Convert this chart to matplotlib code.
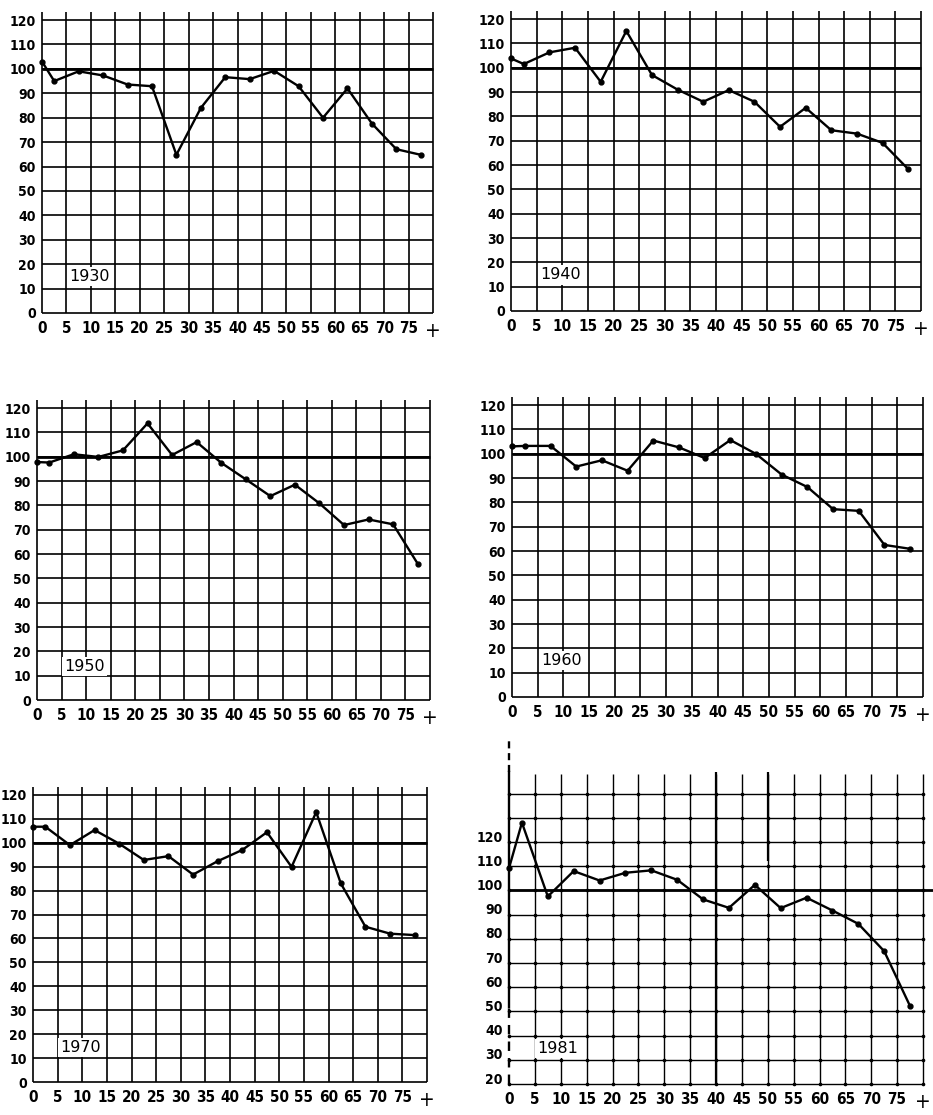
import matplotlib
# 无界面后端
matplotlib.use("Agg")
import matplotlib.pyplot as plt
import matplotlib.transforms as mtransforms
from matplotlib import font_manager

# 年龄组中点（0 为起点）
ages = [0, 2.5, 7.5, 12.5, 17.5, 22.5, 27.5, 32.5, 37.5, 42.5, 47.5, 52.5, 57.5, 62.5, 67.5, 72.5, 77.5]
x_ticks = [0, 5, 10, 15, 20, 25, 30, 35, 40, 45, 50, 55, 60, 65, 70, 75, 80]
x_labels = ["0", "5", "10", "15", "20", "25", "30", "35", "40", "45", "50", "55", "60", "65", "70", "75", "+"]

v1930 = [103, 95, 99, 97.3, 93.6, 92.9, 64.8, 84, 96.6, 95.8, 99.2, 92.9, 80, 92, 77.6, 67.1, 64.8]
v1940 = [103.8, 101.5, 106.3, 108.2, 94.2, 115.1, 97, 91, 86, 90.8, 86, 75.7, 83.5, 74.3, 72.9, 69.1, 58.3]
v1950 = [97.8, 97.6, 101, 99.9, 102.6, 113.7, 100.7, 106, 97.5, 90.7, 83.8, 88.5, 80.8, 71.9, 74.2, 72.2, 56]
v1960 = [103, 103.2, 103.2, 94.7, 97.3, 93, 105.4, 102.6, 98.2, 105.6, 99.9, 91.4, 86.3, 77.2, 76.5, 62.5, 60.9]
v1970 = [106.7, 106.7, 99, 105.3, 99.6, 92.8, 94.4, 86.7, 92.3, 97, 104.4, 89.9, 112.8, 83, 64.9, 62, 61.4]
v1981 = [109.2, 128, 97.5, 108, 104.1, 107.3, 108.3, 104.4, 96.3, 92.8, 102.3, 92.7, 97, 91.7, 86.2, 74.9, 52.2]

y_ticks = [0, 10, 20, 30, 40, 50, 60, 70, 80, 90, 100, 110, 120]
y_ticks_1981 = [20, 30, 40, 50, 60, 70, 80, 90, 100, 110, 120]

# 刻度字体：优先用窄体，没有就用 Roboto
names = {(f.name, f.stretch) for f in font_manager.fontManager.ttflist}
if ("DejaVu Sans", "condensed") in names:
    TICK_FONT = dict(family="DejaVu Sans", stretch="condensed")
elif any(n == "Liberation Sans Narrow" for n, _ in names):
    TICK_FONT = dict(family="Liberation Sans Narrow", stretch="normal")
else:
    TICK_FONT = dict(family="Roboto", stretch="normal")

W, H = 933, 1115
fig = plt.figure(figsize=(W / 100, H / 100), dpi=100)


def make_axes(left, right, bottom, top):
    # 像素坐标转换为画布比例
    return fig.add_axes([left / W, 1 - bottom / H, (right - left) / W, (bottom - top) / H])


def style_ticks(ax, yt):
    ax.set_xticks(x_ticks)
    ax.set_xticklabels(x_labels)
    ax.set_yticks(yt)
    ax.set_yticklabels([str(v) for v in yt])
    ax.tick_params(axis="x", length=0, pad=6)
    ax.tick_params(axis="y", length=0, pad=4.5)
    for lab in ax.get_xticklabels() + ax.get_yticklabels():
        lab.set_fontfamily(TICK_FONT["family"])
        lab.set_fontstretch(TICK_FONT["stretch"])
        lab.set_fontweight("bold")
    for lab in ax.get_xticklabels():
        lab.set_fontsize(11)
    for lab in ax.get_yticklabels():
        lab.set_fontsize(10)
    plus = ax.get_xticklabels()[-1]
    plus.set_fontfamily("DejaVu Sans")
    plus.set_fontsize(15)
    plus.set_fontweight("normal")
    for s in ax.spines.values():
        s.set_visible(False)


def draw_panel(rect, values, year, ytop, label_y):
    ax = make_axes(*rect)
    ax.set_xlim(0, 80)
    ax.set_ylim(0, ytop)
    ax.vlines(x_ticks, 0, ytop, colors="black", lw=1.2, clip_on=False)
    ax.hlines(y_ticks, 0, 80, colors="black", lw=1.2, clip_on=False)
    ax.hlines(100, 0, 80, colors="black", lw=2.0, clip_on=False)
    ax.plot(ages, values, color="black", lw=1.7, marker="o", ms=3.5, clip_on=False, zorder=5)
    ax.text(9.7, label_y, year, ha="center", va="center", fontsize=11.5, family="DejaVu Sans",
            bbox=dict(facecolor="white", edgecolor="none", pad=1.5), zorder=6)
    style_ticks(ax, y_ticks)
    return ax


draw_panel((42, 433, 313, 12), v1930, "1930", 123.3, 14.8)
draw_panel((511, 921, 311, 11), v1940, "1940", 123.3, 14.8)
draw_panel((37, 430, 700, 400), v1950, "1950", 123.3, 13.7)
draw_panel((512, 923, 697, 397), v1960, "1960", 123.3, 15.0)
draw_panel((33, 427, 1082, 787), v1970, "1970", 123.3, 14.5)

# 1981 面板：纵轴从 20 开始，网格较细
ax = make_axes(509, 923, 1084, 738)
ax.set_xlim(0, 80)
ax.set_ylim(20, 163)
grid_y = [20, 30, 40, 50, 60, 70, 80, 90, 100, 110, 120, 130, 140]
ax.vlines(x_ticks[1:], 20, 148, colors="black", lw=1.0, clip_on=False)
ax.vlines([40], 20, 149, colors="black", lw=1.6, clip_on=False)
ax.vlines([50], 112, 149, colors="black", lw=1.6, clip_on=False)
ax.hlines(grid_y, 0, 80, colors="black", lw=1.0, clip_on=False)
ax.hlines(100, 0, 82, colors="black", lw=2.0, clip_on=False)
gx = [x for x in x_ticks for _ in grid_y]
gy = [y for _ in x_ticks for y in grid_y]
ax.plot(gx, gy, "o", color="black", ms=1.6, clip_on=False)
# 左轴：上下两段为虚线
ax.plot([0, 0], [52, 149], color="black", lw=1.7, clip_on=False)
ax.plot([0, 0], [149, 163], color="black", lw=1.7, ls=(0, (3, 2)), clip_on=False)
ax.plot([0, 0], [20, 52], color="black", lw=1.7, ls=(0, (4, 3)), clip_on=False)
ax.plot(ages, v1981, color="black", lw=1.7, marker="o", ms=3.5, clip_on=False, zorder=5)
ax.text(9.4, 34.7, "1981", ha="center", va="center", fontsize=11.5, family="DejaVu Sans",
        bbox=dict(facecolor="white", edgecolor="none", pad=1.5), zorder=6)
style_ticks(ax, y_ticks_1981)
offset = mtransforms.ScaledTranslation(0, 6 / 100, fig.dpi_scale_trans)
for lab in ax.get_yticklabels():
    lab.set_transform(lab.get_transform() + offset)

plt.savefig("out.png", dpi=100)
plt.close("all")
